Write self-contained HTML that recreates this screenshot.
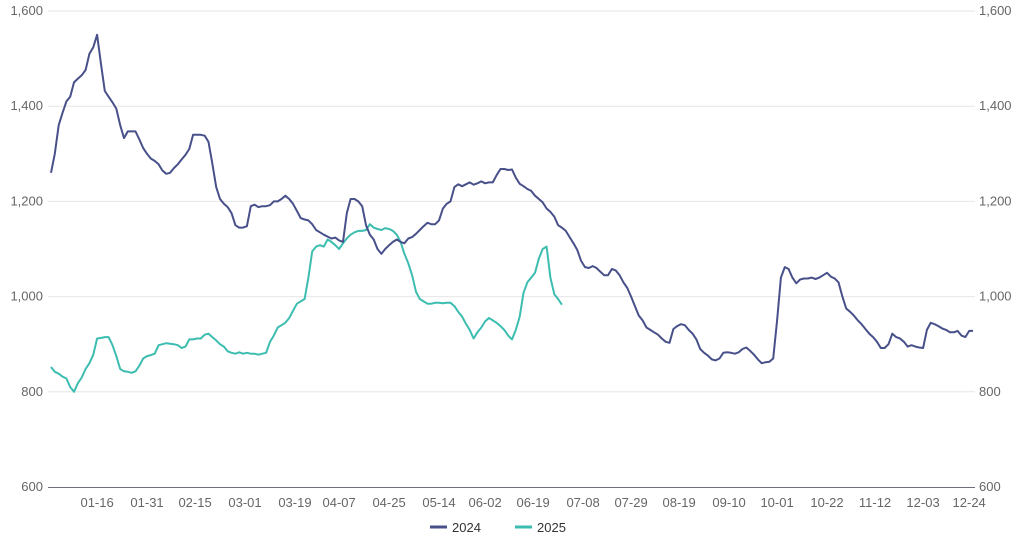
<!DOCTYPE html>
<html><head><meta charset="utf-8"><style>
html,body{margin:0;padding:0;background:#fff;}
svg{display:block;font-family:"Liberation Sans",sans-serif;}
</style></head><body>
<svg id="chart" width="1026" height="546"></svg>
<script>
const tickLabels=["01-16","01-31","02-15","03-01","03-19","04-07","04-25","05-14","06-02","06-19","07-08","07-29","08-19","09-10","10-01","10-22","11-12","12-03","12-24"];
const tickIdx=[12,25,37.5,50.5,63.5,75,88,101,113,125.5,138.5,151,163.5,176.5,189,202,214.5,227,239];
const yTicks=[600,800,1000,1200,1400,1600];
const series2024=[1260,1300,1360,1386,1410,1420,1450,1458,1465,1476,1510,1524,1550,1490,1432,1420,1408,1395,1360,1333,1347,1347,1347,1330,1312,1300,1290,1285,1278,1265,1258,1260,1270,1278,1288,1298,1310,1340,1340,1340,1338,1325,1280,1230,1205,1195,1188,1175,1150,1145,1145,1148,1190,1193,1188,1190,1190,1192,1200,1200,1205,1212,1205,1195,1180,1165,1162,1160,1152,1140,1135,1130,1126,1122,1124,1118,1115,1175,1205,1205,1200,1190,1150,1130,1120,1100,1090,1100,1108,1115,1120,1115,1112,1122,1125,1132,1140,1148,1155,1152,1152,1160,1185,1195,1200,1230,1236,1232,1236,1240,1235,1238,1242,1238,1240,1240,1255,1268,1268,1266,1267,1250,1237,1232,1226,1222,1212,1205,1198,1185,1178,1168,1150,1145,1138,1125,1112,1098,1075,1062,1060,1064,1060,1052,1045,1045,1058,1055,1045,1030,1018,1000,980,960,950,935,930,925,920,912,905,903,932,938,942,940,930,922,910,890,882,876,868,866,870,882,883,882,880,883,890,893,886,878,868,860,862,863,870,950,1040,1062,1058,1040,1028,1036,1038,1038,1040,1037,1040,1045,1050,1042,1038,1030,1000,975,968,960,950,942,932,922,915,905,892,892,900,922,915,912,905,895,898,895,893,892,930,945,942,938,933,930,925,925,928,918,915,928,928];
const series2025=[852,842,838,832,828,810,800,818,830,848,860,878,912,913,915,915,898,875,848,843,842,840,843,855,870,875,877,880,898,900,902,901,900,898,892,895,910,910,912,912,920,922,915,908,900,895,885,882,880,883,880,882,880,880,878,880,882,905,918,935,940,945,955,970,985,990,995,1040,1095,1105,1108,1105,1120,1115,1108,1100,1112,1122,1130,1135,1138,1138,1140,1152,1145,1142,1140,1144,1142,1138,1130,1115,1090,1070,1045,1010,995,990,985,985,987,987,986,987,987,980,968,958,943,930,912,925,935,948,955,950,945,938,930,918,910,930,958,1008,1030,1040,1050,1080,1100,1105,1040,1005,995,983];
const NS="http://www.w3.org/2000/svg";
const svg=document.getElementById('chart');
const X0=51,X1=973,IMAX=240,Y0=487,Y1=11,VMIN=600,VMAX=1600;
function xs(i){return X0+(X1-X0)*i/IMAX;}
function ys(v){return Y0-(Y0-Y1)*(v-VMIN)/(VMAX-VMIN);}
function mk(t,a){const e=document.createElementNS(NS,t);for(const k in a)e.setAttribute(k,a[k]);svg.appendChild(e);return e;}
function fmt(v){return v.toLocaleString('en-US');}
yTicks.forEach(v=>{
  if(v>VMIN){const g=mk('line',{x1:48,x2:975,y1:ys(v),y2:ys(v),stroke:'#e6e6e6','stroke-width':1});
  
  }
  const l=mk('text',{x:43,y:ys(v)+4,'text-anchor':'end','font-size':13,fill:'#666'});l.textContent=fmt(v);
  
  
  const r=mk('text',{x:979,y:ys(v)+4,'text-anchor':'start','font-size':13,fill:'#666'});r.textContent=fmt(v);
  
  
});
const ax=mk('line',{x1:48,x2:975,y1:Y0+0.5,y2:Y0+0.5,stroke:'#6e7079','stroke-width':1});


tickLabels.forEach((t,k)=>{
  const e=mk('text',{x:xs(tickIdx[k]),y:507,'text-anchor':'middle','font-size':13,fill:'#666'});e.textContent=t;
  
  
});
function line(data,color,name){
  const d=data.map((v,i)=>(i?'L':'M')+xs(i).toFixed(1)+','+ys(v).toFixed(1)).join('');
  const p=mk('path',{d:d,fill:'none',stroke:color,'stroke-width':2,'stroke-linejoin':'round'});
  
  
}
line(series2025,'#3dbdb0','line-2025');
line(series2024,'#48508a','line-2024');
function legend(x,color,label){
  const s=mk('line',{x1:x,x2:x+17,y1:527,y2:527,stroke:color,'stroke-width':3});
  
  
  const t=mk('text',{x:x+22,y:532,'font-size':13,fill:'#333'});t.textContent=label;
  
  
}
legend(430,'#48508a','2024');
legend(515,'#3dbdb0','2025');
</script>
</body></html>
